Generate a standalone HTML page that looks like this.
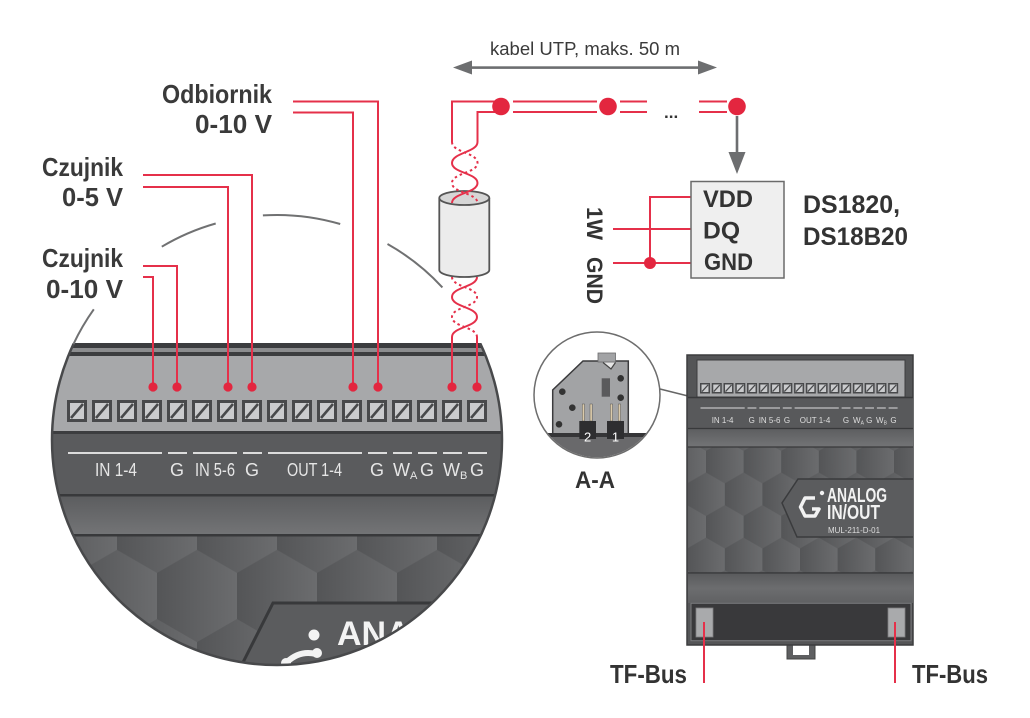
<!DOCTYPE html>
<html><head><meta charset="utf-8"><title>Analog IN/OUT</title>
<style>
html,body{margin:0;padding:0;background:#fff;width:1030px;height:718px;overflow:hidden}
svg{display:block}
text{font-family:"Liberation Sans","DejaVu Sans",sans-serif}
</style></head><body>
<svg width="1030" height="718" viewBox="0 0 1030 718" xmlns="http://www.w3.org/2000/svg">
<defs>
<clipPath id="bigc"><circle cx="277" cy="440" r="225"/></clipPath>
<clipPath id="lowc"><rect x="0" y="343" width="600" height="400"/></clipPath>
<clipPath id="aac"><circle cx="597" cy="395" r="62.3"/></clipPath>
<clipPath id="devc"><rect x="688" y="355" width="225" height="290"/></clipPath>
<linearGradient id="hg" x1="0" y1="0" x2="1" y2="0"><stop offset="0" stop-color="#545557"/><stop offset="1" stop-color="#6b6c6e"/></linearGradient>
<linearGradient id="bandg" x1="0" y1="0" x2="0" y2="1"><stop offset="0" stop-color="#5c5d5f"/><stop offset="1" stop-color="#737476"/></linearGradient>
<linearGradient id="band3" x1="0" y1="0" x2="0" y2="1"><stop offset="0" stop-color="#5a5b5d"/><stop offset="0.5" stop-color="#6c6d6f"/><stop offset="1" stop-color="#606163"/></linearGradient>
<pattern id="hexA" patternUnits="userSpaceOnUse" width="80" height="138.564" x="157" y="549.81">
  <rect width="80" height="138.564" fill="#5c5d5f"/>
  <polygon points="40,0 80,23.094 80,69.282 40,92.376 0,69.282 0,23.094" fill="url(#hg)"/>
  <polygon points="0,69.282 40,92.376 40,138.564 0,161.658 -40,138.564 -40,92.376" fill="url(#hg)"/>
  <polygon points="80,69.282 120,92.376 120,138.564 80,161.658 40,138.564 40,92.376" fill="url(#hg)"/>
  <polygon points="0,-69.282 40,-46.188 40,0 0,23.094 -40,0 -40,-46.188" fill="url(#hg)"/>
  <polygon points="80,-69.282 120,-46.188 120,0 80,23.094 40,0 40,-46.188" fill="url(#hg)"/>
</pattern>
<pattern id="hexB" patternUnits="userSpaceOnUse" width="80" height="138.564" patternTransform="translate(706 440) scale(0.47)">
  <rect width="80" height="138.564" fill="#5c5d5f"/>
  <polygon points="40,0 80,23.094 80,69.282 40,92.376 0,69.282 0,23.094" fill="url(#hg)"/>
  <polygon points="0,69.282 40,92.376 40,138.564 0,161.658 -40,138.564 -40,92.376" fill="url(#hg)"/>
  <polygon points="80,69.282 120,92.376 120,138.564 80,161.658 40,138.564 40,92.376" fill="url(#hg)"/>
  <polygon points="0,-69.282 40,-46.188 40,0 0,23.094 -40,0 -40,-46.188" fill="url(#hg)"/>
  <polygon points="80,-69.282 120,-46.188 120,0 80,23.094 40,0 40,-46.188" fill="url(#hg)"/>
</pattern>
<g id="bt"><rect width="20" height="22" fill="#48494b"/><rect x="3" y="3" width="14" height="16" fill="#cacbcd"/><line x1="4" y1="18" x2="16" y2="4" stroke="#48494b" stroke-width="2.6"/></g>
<g id="st"><rect width="10" height="10.5" fill="#48494b"/><rect x="1.5" y="1.5" width="7" height="7.5" fill="#cacbcd"/><line x1="2" y1="8.6" x2="8" y2="2" stroke="#48494b" stroke-width="1.3"/></g>
</defs>

<!-- ===== BIG MAGNIFIED CIRCLE ===== -->
<g clip-path="url(#bigc)">
  <rect x="40" y="343" width="480" height="6" fill="#3c3d3f"/>
  <rect x="40" y="348" width="480" height="4" fill="#8c8d8f"/>
  <rect x="40" y="352" width="480" height="4" fill="#3c3d3f"/>
  <rect x="40" y="356" width="480" height="76" fill="#a7a8aa"/>
  <rect x="40" y="431" width="480" height="3" fill="#3c3d3f"/>
  <rect x="40" y="434" width="480" height="61" fill="#5a5b5d"/>
  <rect x="40" y="494" width="480" height="2.5" fill="#38393b"/>
  <rect x="40" y="496.5" width="480" height="38" fill="url(#bandg)"/>
  <rect x="40" y="534" width="480" height="2.5" fill="#38393b"/>
  <rect x="40" y="536.5" width="480" height="140" fill="url(#hexA)"/>
  <!-- terminals -->
  <use href="#bt" x="67" y="400"/><use href="#bt" x="92" y="400"/><use href="#bt" x="117" y="400"/>
  <use href="#bt" x="142" y="400"/><use href="#bt" x="167" y="400"/><use href="#bt" x="192" y="400"/>
  <use href="#bt" x="217" y="400"/><use href="#bt" x="242" y="400"/><use href="#bt" x="267" y="400"/>
  <use href="#bt" x="292" y="400"/><use href="#bt" x="317" y="400"/><use href="#bt" x="342" y="400"/>
  <use href="#bt" x="367" y="400"/><use href="#bt" x="392" y="400"/><use href="#bt" x="417" y="400"/>
  <use href="#bt" x="442" y="400"/><use href="#bt" x="467" y="400"/>
  <!-- label lines -->
  <g stroke="#dcdcdc" stroke-width="2">
    <line x1="68" y1="453" x2="162" y2="453"/><line x1="168" y1="453" x2="187" y2="453"/>
    <line x1="193" y1="453" x2="237" y2="453"/><line x1="243" y1="453" x2="262" y2="453"/>
    <line x1="268" y1="453" x2="362" y2="453"/><line x1="368" y1="453" x2="387" y2="453"/>
    <line x1="393" y1="453" x2="412" y2="453"/><line x1="418" y1="453" x2="437" y2="453"/>
    <line x1="443" y1="453" x2="462" y2="453"/><line x1="468" y1="453" x2="487" y2="453"/>
  </g>
  <g fill="#e6e6e6" font-size="18">
    <text x="95" y="476" textLength="42" lengthAdjust="spacingAndGlyphs">IN 1-4</text>
    <text x="177" y="476" text-anchor="middle">G</text>
    <text x="195" y="476" textLength="40" lengthAdjust="spacingAndGlyphs">IN 5-6</text>
    <text x="252" y="476" text-anchor="middle">G</text>
    <text x="287" y="476" textLength="55" lengthAdjust="spacingAndGlyphs">OUT 1-4</text>
    <text x="377" y="476" text-anchor="middle">G</text>
    <text x="393" y="476">W<tspan font-size="11" dy="3">A</tspan></text>
    <text x="427" y="476" text-anchor="middle">G</text>
    <text x="443" y="476">W<tspan font-size="11" dy="3">B</tspan></text>
    <text x="477" y="476" text-anchor="middle">G</text>
  </g>
  <!-- badge -->
  <polygon points="273,603 520,603 520,700 224,700" fill="#5b5c5e" stroke="#38393b" stroke-width="3"/>
  <text x="337" y="645" font-size="34" font-weight="bold" fill="#f3f3f3">ANALOG</text>
  <text x="337" y="684" font-size="34" font-weight="bold" fill="#f3f3f3">IN/OUT</text>
  <circle cx="314" cy="635" r="5.5" fill="#f3f3f3"/>
  <path d="M287 662 Q300 650 316 654" fill="none" stroke="#f3f3f3" stroke-width="6" stroke-linecap="round"/>
  <circle cx="286" cy="663" r="5" fill="#f3f3f3"/>
  <circle cx="317" cy="653" r="5" fill="#f3f3f3"/>
</g>
<circle cx="277" cy="440" r="225" fill="none" stroke="#48494b" stroke-width="2.5" clip-path="url(#lowc)"/>

<!-- big circle outline arcs -->
<g fill="none" stroke="#707172" stroke-width="2">
  <path d="M73.4 344.2 A225 225 0 0 1 93.8 309.3"/>
  <path d="M161.8 246.7 A225 225 0 0 1 215.7 223.5"/>
  <path d="M262.9 215.4 A225 225 0 0 1 340.2 224.0"/>
  <path d="M387.5 244.0 A225 225 0 0 1 442.4 287.4"/>
</g>

<!-- labels left -->
<g fill="#3a3a3a" font-size="26" font-weight="bold">
  <text x="162" y="103" textLength="110" lengthAdjust="spacingAndGlyphs">Odbiornik</text>
  <text x="195" y="133" textLength="77" lengthAdjust="spacingAndGlyphs">0-10 V</text>
  <text x="42" y="176" textLength="81" lengthAdjust="spacingAndGlyphs">Czujnik</text>
  <text x="62" y="206" textLength="61" lengthAdjust="spacingAndGlyphs">0-5 V</text>
  <text x="42" y="267" textLength="81" lengthAdjust="spacingAndGlyphs">Czujnik</text>
  <text x="46" y="298" textLength="77" lengthAdjust="spacingAndGlyphs">0-10 V</text>
</g>

<!-- cylinder -->
<path d="M439.3 198 V270 A25 7 0 0 0 489.3 270 V198" fill="#ececec" stroke="#555" stroke-width="1.8"/>
<ellipse cx="464.3" cy="198" rx="25" ry="7" fill="#d6d6d6" stroke="#555" stroke-width="1.8"/>

<!-- red wires -->
<g fill="none" stroke="#e5304a" stroke-width="2">
  <path d="M293 101.5 H378 V387"/>
  <path d="M293 112.5 H353 V387"/>
  <path d="M143 175 H252 V387"/>
  <path d="M143 187 H228 V387"/>
  <path d="M143 266 H177 V387"/>
  <path d="M143 277 H153 V387"/>
  <path d="M452 142 V101.5 H495"/>
  <path d="M477.5 142 V112 H495"/>
  <path d="M513 101.5 H597 M513 112 H597"/>
  <path d="M620 101.5 H647 M620 112 H647"/>
  <path d="M699 101.5 H727 M699 112 H727"/>
  <path d="M477.5 142 C477.5 152.5 452 152.5 452 163 C452 173 477.5 173 477.5 183 C477.5 193 452 193 452 203"/>
  <path d="M477 277 C477 287 452 287 452 297 C452 307 477 307 477 317 C477 327 452 327 452 337 V387"/>
  <path d="M477 337 V387"/>
  <path d="M691 197 H650 V263"/>
  <path d="M613 229 H691"/>
  <path d="M613 263 H691"/>
  <path d="M704 622 V683"/>
  <path d="M895 622 V683"/>
</g>
<g fill="none" stroke="#e5304a" stroke-width="2" stroke-dasharray="2.5 3">
  <path d="M452 142 C452 152.5 477.5 152.5 477.5 163 C477.5 173 452 173 452 183 C452 193 477.5 193 477.5 203"/>
  <path d="M452 277 C452 287 477 287 477 297 C477 307 452 307 452 317 C452 327 477 327 477 337"/>
</g>
<g fill="#e3263f">
  <circle cx="153" cy="387" r="4.6"/><circle cx="177" cy="387" r="4.6"/>
  <circle cx="228" cy="387" r="4.6"/><circle cx="252" cy="387" r="4.6"/>
  <circle cx="353" cy="387" r="4.6"/><circle cx="378" cy="387" r="4.6"/>
  <circle cx="452" cy="387" r="4.6"/><circle cx="477" cy="387" r="4.6"/>
  <circle cx="501" cy="106.5" r="8.8"/><circle cx="608" cy="106.5" r="8.8"/><circle cx="737" cy="106.5" r="8.8"/>
  <circle cx="650" cy="263" r="6"/>
</g>
<text x="664" y="118" font-size="17" font-weight="bold" fill="#333">...</text>

<!-- UTP arrow -->
<text x="490" y="55" font-size="18" fill="#3a3a3a" textLength="190" lengthAdjust="spacingAndGlyphs">kabel UTP, maks. 50 m</text>
<g fill="#6d6e70" stroke="none">
  <rect x="468" y="66.3" width="234" height="2.6"/>
  <polygon points="453,67.5 472,60.5 472,74.5"/>
  <polygon points="717,67.5 698,60.5 698,74.5"/>
  <rect x="735.7" y="116" width="2.6" height="40"/>
  <polygon points="728.5,152 745.5,152 737,174"/>
</g>

<!-- DS box -->
<rect x="691" y="181.5" width="93" height="96.5" fill="#efefef" stroke="#6a6a6a" stroke-width="1.5"/>
<g fill="#333" font-size="24" font-weight="bold">
  <text x="703" y="207" textLength="50" lengthAdjust="spacingAndGlyphs">VDD</text>
  <text x="703" y="238.5" textLength="37" lengthAdjust="spacingAndGlyphs">DQ</text>
  <text x="704" y="270" textLength="49" lengthAdjust="spacingAndGlyphs">GND</text>
  <text x="803" y="213" font-size="25" textLength="97" lengthAdjust="spacingAndGlyphs">DS1820,</text>
  <text x="803" y="245" font-size="25" textLength="105" lengthAdjust="spacingAndGlyphs">DS18B20</text>
  <text transform="translate(587 207) rotate(90)" font-size="22" textLength="33" lengthAdjust="spacingAndGlyphs">1W</text>
  <text transform="translate(587 257) rotate(90)" font-size="22" textLength="47" lengthAdjust="spacingAndGlyphs">GND</text>
</g>

<!-- A-A detail -->
<line x1="660" y1="389" x2="688" y2="396" stroke="#666" stroke-width="1.5"/>
<circle cx="597" cy="395" r="63" fill="#fff"/>
<g clip-path="url(#aac)">
  <rect x="530" y="436" width="140" height="30" fill="#69696b"/>
  <polygon points="552.7,434 552.7,390 583,361 628.3,361 628.3,434" fill="#a2a3a5" stroke="#3b3b3d" stroke-width="1.5"/>
  <rect x="598" y="353" width="17.5" height="9" fill="#a2a3a5" stroke="#6b6b6d" stroke-width="0.8"/>
  <path d="M603 362.5 L611 369 L615.5 362.5" fill="#e6e6e6" stroke="#444" stroke-width="1.2"/>
  <rect x="530" y="433" width="140" height="4" fill="#353537"/>
  <g fill="#333"><circle cx="562.3" cy="391.7" r="3.3"/><circle cx="572.3" cy="407.7" r="3.3"/><circle cx="559" cy="424.3" r="3.3"/><circle cx="620.7" cy="378.3" r="3.3"/><circle cx="620.7" cy="397.7" r="3.3"/></g>
  <rect x="601.7" y="378.3" width="8.3" height="18.4" fill="#5a5a5c"/>
  <g fill="#dccbaa" stroke="#555" stroke-width="0.5">
    <rect x="582.3" y="404" width="2.2" height="17"/><rect x="590" y="404" width="2.2" height="17"/>
    <rect x="610.3" y="404" width="2.2" height="17"/><rect x="618.3" y="404" width="2.2" height="17"/>
  </g>
  <rect x="579.3" y="421" width="16.7" height="18" fill="#2e2e30"/>
  <rect x="607" y="421" width="17" height="18" fill="#2e2e30"/>
  <text x="587.6" y="441.5" font-size="13" fill="#fff" text-anchor="middle">2</text>
  <text x="615.5" y="441.5" font-size="13" fill="#fff" text-anchor="middle">1</text>
</g>
<circle cx="597" cy="395" r="63" fill="none" stroke="#6d6d6d" stroke-width="1.5"/>
<text x="575" y="488" font-size="24" font-weight="bold" fill="#333" textLength="40" lengthAdjust="spacingAndGlyphs">A-A</text>

<!-- ===== RIGHT DEVICE ===== -->
<rect x="787" y="644" width="28" height="15" fill="#5e5f61" stroke="#444" stroke-width="1"/>
<rect x="793" y="644" width="16" height="11" fill="#fff"/>
<rect x="687" y="355" width="226" height="290" fill="#545557" stroke="#3c3d3f" stroke-width="1.5"/>
<g clip-path="url(#devc)">
  <rect x="697" y="360" width="208" height="37" fill="#a7a8aa" stroke="#3c3d3f" stroke-width="1"/>
  <use href="#st" x="700" y="383"/><use href="#st" x="711.76" y="383"/><use href="#st" x="723.52" y="383"/>
  <use href="#st" x="735.28" y="383"/><use href="#st" x="747.04" y="383"/><use href="#st" x="758.8" y="383"/>
  <use href="#st" x="770.56" y="383"/><use href="#st" x="782.32" y="383"/><use href="#st" x="794.08" y="383"/>
  <use href="#st" x="805.84" y="383"/><use href="#st" x="817.6" y="383"/><use href="#st" x="829.36" y="383"/>
  <use href="#st" x="841.12" y="383"/><use href="#st" x="852.88" y="383"/><use href="#st" x="864.64" y="383"/>
  <use href="#st" x="876.4" y="383"/><use href="#st" x="888.16" y="383"/>
  <rect x="688" y="397" width="225" height="31" fill="#58595b"/>
  <line x1="688" y1="397.5" x2="913" y2="397.5" stroke="#38393b" stroke-width="1.5"/>
  <g stroke="#dcdcdc" stroke-width="1">
    <line x1="700.5" y1="408" x2="744.7" y2="408"/><line x1="747.5" y1="408" x2="756.4" y2="408"/>
    <line x1="759.3" y1="408" x2="780" y2="408"/><line x1="782.8" y1="408" x2="791.7" y2="408"/>
    <line x1="794.6" y1="408" x2="838.8" y2="408"/><line x1="841.6" y1="408" x2="850.5" y2="408"/>
    <line x1="853.4" y1="408" x2="862.3" y2="408"/><line x1="865.1" y1="408" x2="874" y2="408"/>
    <line x1="876.9" y1="408" x2="885.8" y2="408"/><line x1="888.6" y1="408" x2="897.6" y2="408"/>
  </g>
  <g fill="#dedede" font-size="8" text-anchor="middle">
    <text x="722.6" y="423">IN 1-4</text>
    <text x="751.7" y="423">G</text>
    <text x="769.6" y="423">IN 5-6</text>
    <text x="787" y="423">G</text>
    <text x="815" y="423">OUT 1-4</text>
    <text x="846" y="423">G</text>
    <text x="858.5" y="423">W<tspan font-size="5" dy="1.5">A</tspan></text>
    <text x="869.3" y="423">G</text>
    <text x="881.5" y="423">W<tspan font-size="5" dy="1.5">B</tspan></text>
    <text x="893.5" y="423">G</text>
  </g>
  <rect x="688" y="428" width="225" height="19" fill="url(#bandg)"/>
  <line x1="688" y1="428.5" x2="913" y2="428.5" stroke="#38393b" stroke-width="1.2"/>
  <rect x="688" y="447" width="225" height="126" fill="url(#hexB)"/>
  <line x1="688" y1="447" x2="913" y2="447" stroke="#38393b" stroke-width="1.2"/>
  <polygon points="798,479 915,479 915,537 797,537 782,503" fill="#5b5c5e" stroke="#3a3b3d" stroke-width="1.5"/>
  <text x="827" y="502" font-size="20" font-weight="bold" fill="#f2f2f2" textLength="60" lengthAdjust="spacingAndGlyphs">ANALOG</text>
  <text x="827" y="519" font-size="20" font-weight="bold" fill="#f2f2f2" textLength="53" lengthAdjust="spacingAndGlyphs">IN/OUT</text>
  <text x="828" y="533" font-size="8.5" fill="#dddddd" textLength="52" lengthAdjust="spacingAndGlyphs">MUL-211-D-01</text>
  <circle cx="822" cy="493" r="2.2" fill="#f2f2f2"/>
  <path d="M815 498 H805 L800.5 507 L805 516 H815 L819 509 H812" fill="none" stroke="#f2f2f2" stroke-width="3.5" stroke-linejoin="round"/>
  <line x1="688" y1="573" x2="913" y2="573" stroke="#38393b" stroke-width="1.5"/>
  <rect x="688" y="573.7" width="225" height="29.3" fill="url(#band3)"/>
  <rect x="691" y="603.3" width="220" height="37.4" fill="#39393b" stroke="#7a7b7d" stroke-width="1"/>
  <rect x="696" y="608" width="17" height="29" fill="#a9aaac" stroke="#7d7e80" stroke-width="0.8"/>
  <rect x="888" y="608" width="17" height="29" fill="#a9aaac" stroke="#7d7e80" stroke-width="0.8"/>
</g>
<path d="M704 622 V683 M895 622 V683" stroke="#e5304a" stroke-width="2" fill="none"/>
<g fill="#333" font-size="26" font-weight="bold">
  <text x="610" y="683" textLength="77" lengthAdjust="spacingAndGlyphs">TF-Bus</text>
  <text x="912" y="683" textLength="76" lengthAdjust="spacingAndGlyphs">TF-Bus</text>
</g>
</svg>
</body></html>
